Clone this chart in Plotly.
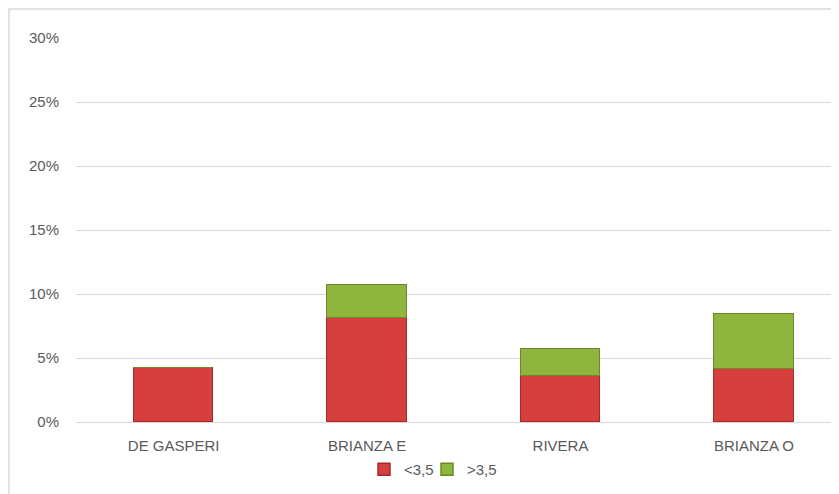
import plotly.graph_objects as go

categories = ["DE GASPERI", "BRIANZA E", "RIVERA", "BRIANZA O"]
series_names = ["<3,5", ">3,5"]
low_values = [4.2, 8.1, 3.6, 4.15]
high_values = [0.0, 2.6, 2.1, 4.3]
y_ticks = [0, 5, 10, 15, 20, 25, 30]
y_tick_labels = ["0%", "5%", "10%", "15%", "20%", "25%", "30%"]

FONT = "Liberation Sans, Arial, sans-serif"
# page is rendered with an 8px body margin, so the figure is sized to the visible area
OFF = 8
W, H = 839 - OFF, 494 - OFF
L, T = 76 - OFF, 38 - OFF
ZERO = 422 - OFF
B = H - ZERO

fig = go.Figure()
fig.add_trace(go.Bar(
    x=categories, y=low_values, name=series_names[0], width=0.41,
    marker=dict(color="#d63f3d", line=dict(color="#a52b29", width=1.5)),
    legend="legend",
))
fig.add_trace(go.Bar(
    x=categories, y=high_values, name=series_names[1], width=0.41,
    marker=dict(color="#8fb53f", line=dict(color="#6a8a2a", width=1.5)),
    legend="legend2",
))

pw = W - L
ph = H - T - B
def px_x(p):
    return (p - OFF - L) / pw
def px_y(p):
    return (ZERO - (p - OFF)) / ph

legend_style = dict(orientation="h", yanchor="top", xanchor="left",
                    font=dict(family=FONT, size=15, color="#595959"),
                    itemwidth=30, bgcolor="rgba(0,0,0,0)")

fig.update_layout(
    width=W, height=H,
    barmode="stack",
    bargap=0,
    plot_bgcolor="white", paper_bgcolor="white",
    margin=dict(l=L, r=0, t=T, b=B, pad=0),
    font=dict(family=FONT, size=15, color="#595959"),
    showlegend=True,
    legend=dict(x=px_x(364), y=px_y(453), **legend_style),
    legend2=dict(x=px_x(427), y=px_y(453), **legend_style),
    xaxis=dict(range=[-0.505, 3.44], showgrid=False, showline=False,
               zeroline=False, ticks="", ticklabelstandoff=13,
               tickfont=dict(family=FONT, size=15, color="#595959")),
    yaxis=dict(range=[0, 30], tickvals=y_ticks, ticktext=y_tick_labels,
               showgrid=True, gridcolor="#d9d9d9", gridwidth=1,
               zeroline=True, zerolinecolor="#d9d9d9", zerolinewidth=1,
               showline=False, ticks="", ticklabelstandoff=16,
               tickfont=dict(family=FONT, size=15, color="#595959")),
    shapes=[dict(type="rect", xref="paper", yref="paper",
                 x0=px_x(9), x1=px_x(839 + 10), y0=px_y(9), y1=px_y(494 + 10),
                 line=dict(color="#d9d9d9", width=1.5), fillcolor="rgba(0,0,0,0)",
                 layer="below")],
)

fig.write_html("out.html")
